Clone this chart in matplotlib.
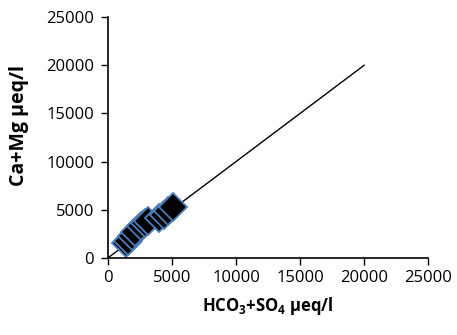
import matplotlib
matplotlib.use("Agg")
import matplotlib.pyplot as plt

plt.rcParams['font.family'] = ['Open Sans', 'DejaVu Sans']
plt.rcParams['mathtext.fontset'] = 'custom'
plt.rcParams['mathtext.rm'] = 'Open Sans:bold'
plt.rcParams['mathtext.it'] = 'Open Sans:bold'
plt.rcParams['mathtext.bf'] = 'Open Sans:bold'

hco3_so4 = [1400, 1600, 1850, 2100, 2600, 2900, 3100, 4000, 4400, 4700, 5100]
ca_mg = [1500, 1800, 2300, 2700, 3300, 3600, 3800, 4100, 4500, 4900, 5300]
line_x = [0, 20000]
line_y = [0, 20000]
ticks = [0, 5000, 10000, 15000, 20000, 25000]

fig = plt.figure(figsize=(4.57, 3.35), dpi=100)
ax = fig.add_axes([0.236, 0.23, 0.701, 0.719])

ax.plot(line_x, line_y, color='black', linewidth=1)
ax.plot(hco3_so4, ca_mg, linestyle='none', marker='D', markersize=14,
        markerfacecolor='black', markeredgecolor='#4a7ebb', markeredgewidth=1.3)

ax.set_xlim(0, 25000)
ax.set_ylim(0, 25000)
ax.set_xticks(ticks)
ax.set_yticks(ticks)
ax.tick_params(labelsize=12, length=5, width=1, direction='out', colors='black')
ax.tick_params(axis='x', pad=4)
ax.tick_params(axis='y', pad=5)
for s in ['top', 'right']:
    ax.spines[s].set_visible(False)
for s in ['left', 'bottom']:
    ax.spines[s].set_linewidth(1.2)

ax.set_xlabel(r'HCO$_3$+SO$_4$ µeq/l', fontsize=12, fontweight='bold', labelpad=6)
ax.set_ylabel('Ca+Mg µeq/l', fontsize=14, fontweight='bold')
ax.yaxis.set_label_coords(-0.245, 0.55)

fig.savefig('out.png', dpi=100)
